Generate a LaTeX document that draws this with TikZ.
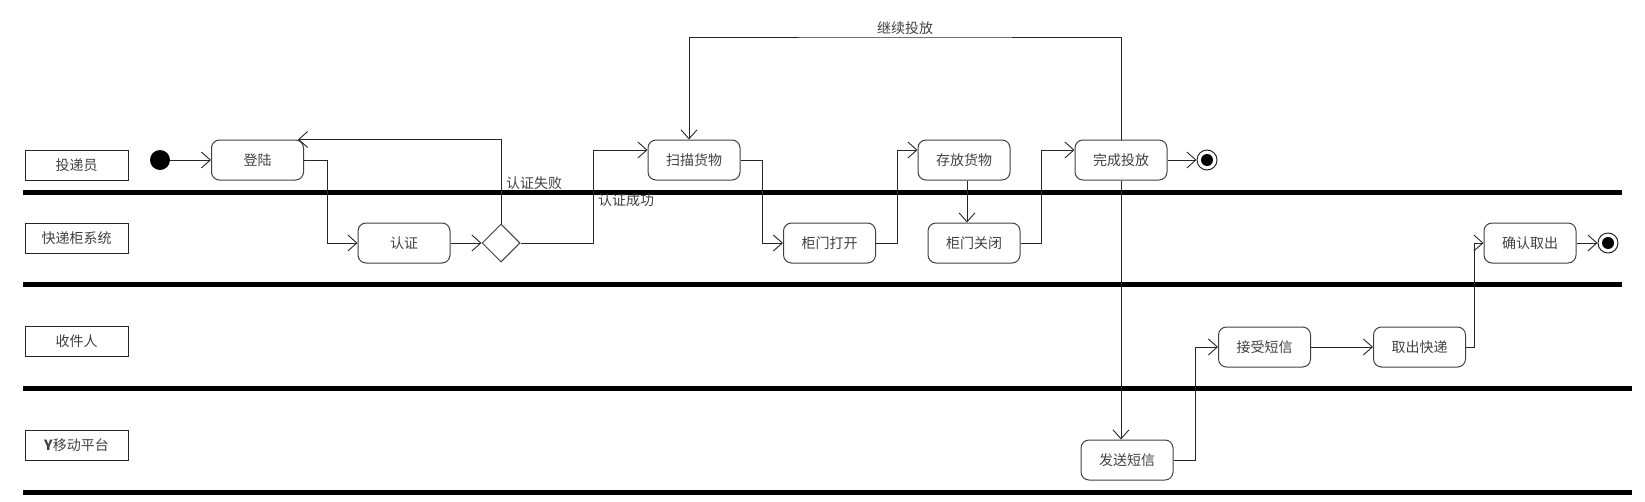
\documentclass[tikz,border=0pt]{standalone}
\usepackage{fontspec}
\setmainfont{Noto Sans CJK SC}
\usetikzlibrary{arrows.meta,positioning,shapes.geometric}
\tikzset{
  txt/.style={text=black!75, font=\fontsize{14}{16}\selectfont},
  act/.style={txt, draw=black!75, line width=1pt, rounded corners=8pt,
    minimum width=92pt, minimum height=40pt, inner sep=0pt},
  lane/.style={txt, draw=black!85, line width=1pt,
    minimum width=103pt, minimum height=30pt, inner sep=0pt},
  lbl/.style={txt, inner sep=1pt},
  flow/.style={-{Straight Barb[length=9pt,width=16pt]}, line width=0.9pt, draw=black!85},
  startdot/.style={circle, fill=black, minimum size=20pt, inner sep=0pt},
  enddot/.style={circle, draw=black!85, line width=1pt, minimum size=20pt, inner sep=0pt,
    path picture={\fill[black] (path picture bounding box.center) circle (6pt);}},
  sep/.style={line width=5pt, line cap=butt},
}
\begin{document}
\begin{tikzpicture}[x=1pt,y=-1pt]
\useasboundingbox (0,0) rectangle (1645,501);
% swimlanes
\foreach \y/\e in {192/1622,284/1622,388/1632,492/1632}
  \draw[sep] (23,\y) -- (\e,\y);
\node[lane] (postman) at (76.5,165) {投递员};
\node[lane] (locker) at (76.5,238) {快递柜系统};
\node[lane] (receiver) at (76.5,341.5) {收件人};
\node[lane] (platform) at (76.5,445.5) {\textbf{Y}移动平台};
% activities
\node[startdot] (start) at (160,160) {};
\node[act] (login) at (257.5,160) {登陆};
\node[act] (auth) at (404,243) {认证};
\node[diamond, draw=black!75, line width=1pt, aspect=1, minimum width=38pt,
  minimum height=38pt, inner sep=0pt] (check) at (501,243) {};
\node[act] (scan) at (694,160) {扫描货物};
\node[act] (open) at (829.5,243) {柜门打开};
\node[act] (store) at (964,160) {存放货物};
\node[act] (close) at (974,243) {柜门关闭};
\node[act] (done) at (1121,160) {完成投放};
\node[enddot] (end1) at (1207,160) {};
\node[act] (sms) at (1127,460) {发送短信};
\node[act] (recv) at (1264.5,347) {接受短信};
\node[act] (take) at (1419.5,347) {取出快递};
\node[act] (confirm) at (1530,243) {确认取出};
\node[enddot] (end2) at (1608,243) {};
\coordinate (loop) at (905,37);
% labels
\node[lbl, anchor=west] (failtxt) at (505,183) {认证失败};
\node[lbl, anchor=west] (oktxt) at (597,200) {认证成功};
\node[lbl, above=1pt of loop] (againtxt) {继续投放};
% flows
\path[flow]
(start) edge (login)
(auth) edge (check)
(done) edge (end1)
(recv) edge (take)
(confirm) edge (end2);
\draw[flow] (login.east) -- ++(23,0) |- (auth.west);
\draw[flow] (check.north) |- ([xshift=-6pt]login.north east);
\draw[flow] (check.east) -- ++(73,0) |- ([yshift=10pt]scan.west);
\draw[flow] (scan.east) -- ++(22,0) |- (open.west);
\draw[flow] (open.east) -- ++(21,0) |- ([yshift=10pt]store.west);
\draw[flow] ([xshift=3pt]store.south) -- ([xshift=3pt]store.south |- close.north);
\draw[flow] (close.east) -- ++(21,0) |- ([yshift=10pt]done.west);
\draw[flow] (done.north) |- (loop) -| ([xshift=-5pt]scan.north);
\draw[flow] (done.south) -- (done.south |- sms.north);
\draw[flow] (sms.east) -- ++(22,0) |- (recv.west);
\draw[flow] (take.east) -- ++(8,0) |- (confirm.west);
\end{tikzpicture}
\end{document}
